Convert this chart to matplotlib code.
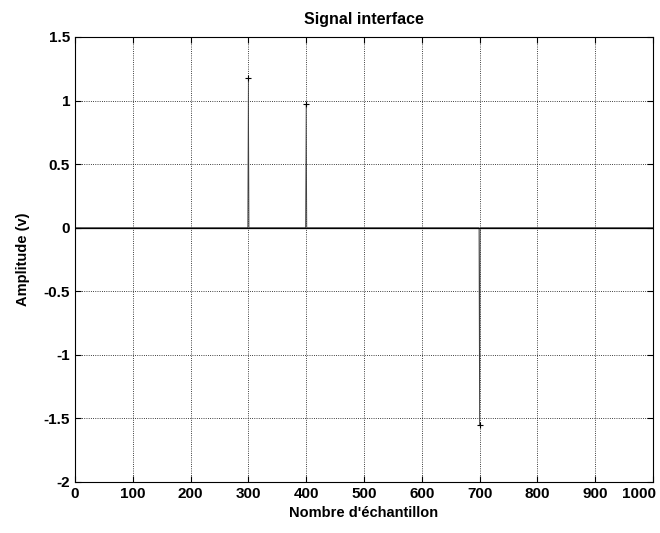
import numpy as np
import matplotlib
matplotlib.use("Agg")
import matplotlib.pyplot as plt
import matplotlib.transforms as mtransforms

plt.rcParams['font.family'] = ['Liberation Sans', 'DejaVu Sans']

# signal samples (zero baseline with three impulses)
samples = [0, 299, 300, 301, 399, 400, 401, 699, 700, 701, 1000]
amplitude = [0, 0, 1.18, 0, 0, 0.97, 0, 0, -1.55, 0, 0]
peak_x = [300, 400, 700]
peak_y = [1.18, 0.97, -1.55]

xticks = np.arange(0, 1001, 100)
yticks = [-2, -1.5, -1, -0.5, 0, 0.5, 1, 1.5]
ylabels = ['-2', '-1.5', '-1', '-0.5', '0', '0.5', '1', '1.5']

fig = plt.figure(figsize=(6.6, 5.33), dpi=100)
ax = fig.add_axes([0.1136, 0.0957, 0.8758, 0.835])

ax.plot(samples, amplitude, color='0.25', lw=0.6)
ax.axhline(0, color='k', lw=0.9)
ax.plot(peak_x, peak_y, 'k+', ms=5, mew=0.8)

ax.set_xlim(0, 1000)
ax.set_ylim(-2, 1.5)
ax.set_xticks(xticks)
ax.set_yticks(yticks)
ax.set_yticklabels(ylabels)
ax.grid(True, color='k', linestyle=':', linewidth=0.6)
ax.tick_params(direction='in', top=True, right=True, length=4, labelsize=11)
for lab in ax.get_xticklabels() + ax.get_yticklabels():
    lab.set_fontweight('bold')
for s in ax.spines.values():
    s.set_linewidth(0.8)

# keep the last x label inside the figure
last = ax.get_xticklabels()[-1]
last.set_transform(last.get_transform() + mtransforms.ScaledTranslation(-14 / 100, 0, fig.dpi_scale_trans))

ax.set_title('Signal interface', fontsize=11.5, fontweight='bold', pad=9)
ax.set_xlabel("Nombre d'échantillon", fontsize=10.5, fontweight='bold', labelpad=4)
ax.set_ylabel('Amplitude (v)', fontsize=10.5, fontweight='bold', labelpad=10)

fig.savefig('out.png', dpi=100)
